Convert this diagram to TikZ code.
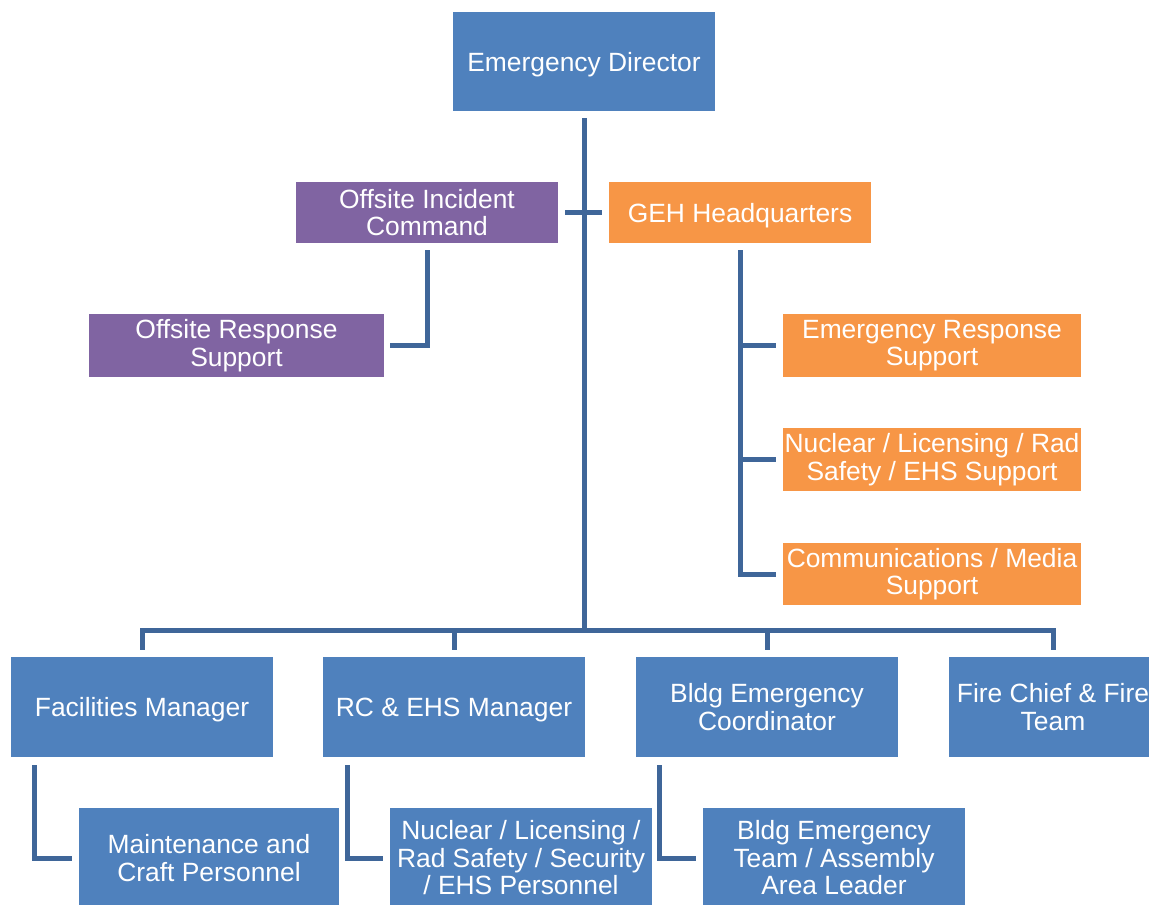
\documentclass[tikz,border=0pt]{standalone}
\usepackage{fontspec}
\setmainfont{Liberation Sans}
\definecolor{boxblue}{HTML}{4F81BD}
\definecolor{boxpurple}{HTML}{8064A2}
\definecolor{boxorange}{HTML}{F79646}
\definecolor{linecol}{HTML}{3F6699}
\tikzset{
  box/.style={minimum width=262pt, minimum height=100pt, inner sep=0pt, text=white, align=center, font=\fontsize{26.4}{27.5}\selectfont},
  bluebox/.style={box, fill=boxblue},
  purplebox/.style={box, fill=boxpurple},
  orangebox/.style={box, fill=boxorange},
  oneline/.style={text height=19pt, text depth=0pt},
  conn/.style={draw=linecol, line width=5pt}
}
\begin{document}
\begin{tikzpicture}[x=1pt,y=-1pt]
\useasboundingbox (0,0) rectangle (1149,905);
% nodes
\node[bluebox, oneline, minimum height=99pt] (ed) at (584,61.5) {Emergency Director};
\node[purplebox, minimum height=61pt] (oic) at (427,212.5) {Offsite Incident\\Command};
\node[orangebox, oneline, minimum height=61pt] (geh) at (740,212.5) {GEH Headquarters};
\node[purplebox, minimum width=295pt, minimum height=63pt] (ors) at (236.5,345.5) {Offsite Response\\Support};
\node[orangebox, minimum width=298pt, minimum height=63pt] (ers) at (932,345.5) {Emergency Response\\Support};
\node[orangebox, minimum width=298pt, minimum height=63pt] (nls) at (932,459.5) {Nuclear / Licensing / Rad\\Safety / EHS Support};
\node[orangebox, minimum width=298pt, minimum height=62pt] (cms) at (932,574) {Communications / Media\\Support};
\node[bluebox, oneline] (fm) at (142,707) {Facilities Manager};
\node[bluebox, oneline] (rc) at (454,707) {RC \& EHS Manager};
\node[bluebox] (bec) at (767,707) {Bldg Emergency\\Coordinator};
\node[bluebox, minimum width=208pt] (fc) at (1053,707) {Fire Chief \& Fire\\Team};
\node[bluebox, minimum width=260pt] (mcp) at (209,858) {Maintenance and\\Craft Personnel};
\node[bluebox] (nlp) at (521,858) {Nuclear / Licensing /\\Rad Safety / Security\\/ EHS Personnel};
\node[bluebox] (bet) at (834,858) {Bldg Emergency\\Team / Assembly\\Area Leader};
% connectors
\coordinate (bar) at (584,630);
\draw[conn] ([yshift=-7pt]ed.south) -- (bar);
\draw[conn] ([xshift=7pt]oic.east) -- ([xshift=-7pt]geh.west);
\draw[conn] ([yshift=7pt]fm.north) |- (bar) -| ([yshift=7pt]fc.north);
\draw[conn] ([yshift=7pt]rc.north) -- (rc.north |- bar);
\draw[conn] ([yshift=7pt]bec.north) -- (bec.north |- bar);
\draw[conn] ([yshift=-7pt]oic.south) |- ([xshift=6pt]ors.east);
\draw[conn] ([yshift=-7pt]geh.south) |- ([xshift=-7pt]cms.west);
\draw[conn] ([yshift=-7pt]geh.south) |- ([xshift=-7pt]ers.west);
\draw[conn] ([yshift=-7pt]geh.south) |- ([xshift=-7pt]nls.west);
\draw[conn] ([shift={(24pt,-8pt)}]fm.south west) |- ([xshift=-7pt]mcp.west);
\draw[conn] ([shift={(25pt,-8pt)}]rc.south west) |- ([xshift=-7pt]nlp.west);
\draw[conn] ([shift={(24pt,-8pt)}]bec.south west) |- ([xshift=-7pt]bet.west);
\end{tikzpicture}
\end{document}
